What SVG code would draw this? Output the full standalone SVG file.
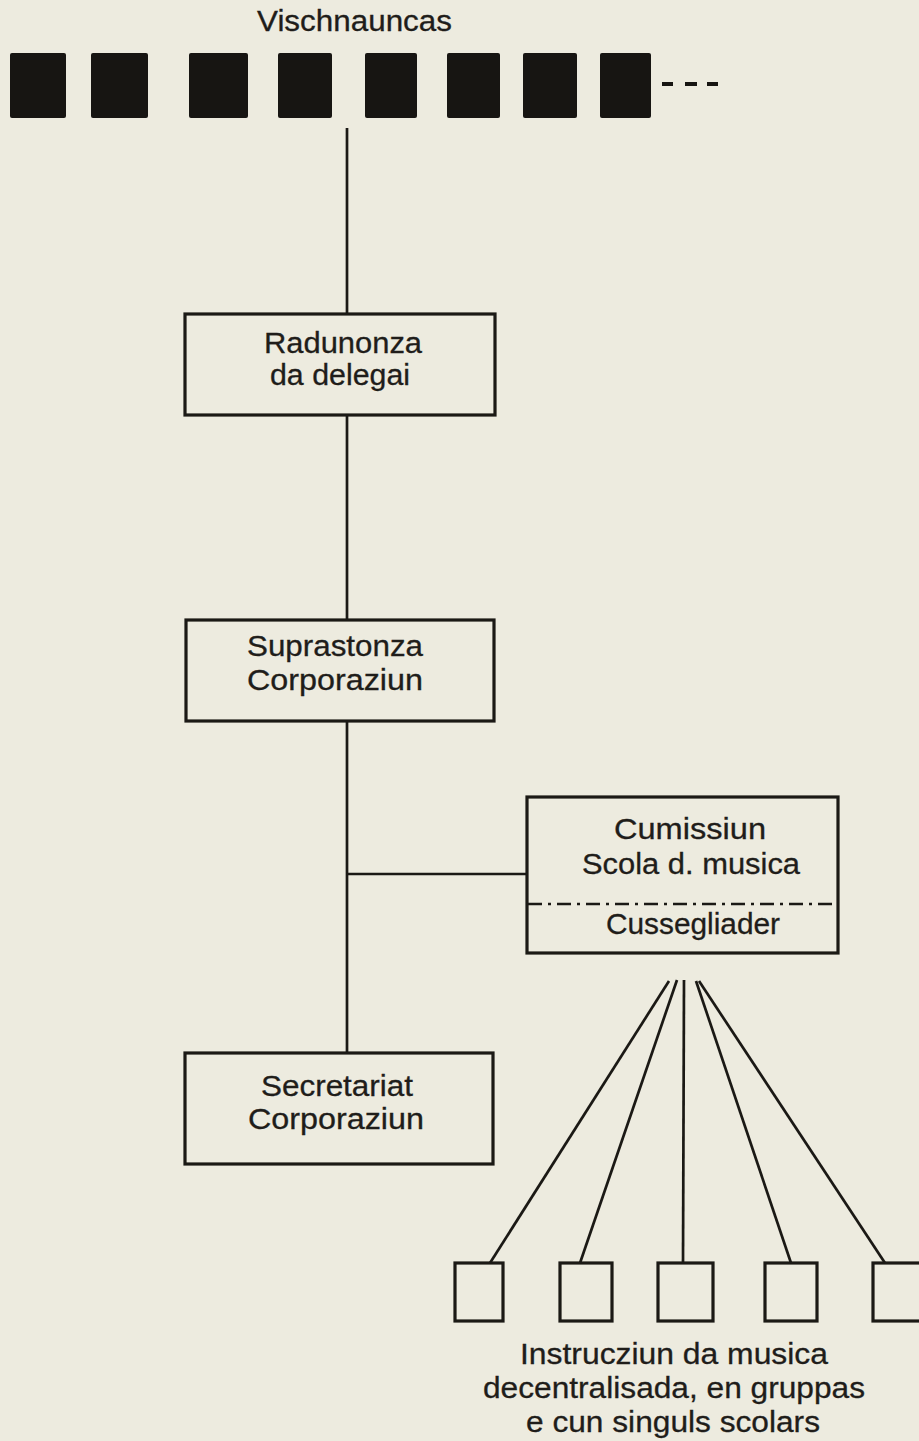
<svg xmlns="http://www.w3.org/2000/svg" width="919" height="1441" viewBox="0 0 919 1441">
<style>
.t{font-family:"Liberation Sans",Arial,sans-serif;font-size:29px;fill:#1f1d1a;stroke:#1f1d1a;stroke-width:0.3}
.box{fill:none;stroke:#1b1915;stroke-width:3.2}
.sq{fill:#171512}
.ln{fill:none;stroke:#1b1915;stroke-width:2.7}
.dd{fill:none;stroke:#1b1915;stroke-width:2.7;stroke-dasharray:14 6 3 6}
</style>
<rect x="0" y="0" width="919" height="1441" fill="#edebdf"/>
<g id="connectors">
<line class="ln" x1="347" y1="128" x2="347" y2="314"/>
<line class="ln" x1="347" y1="415" x2="347" y2="620"/>
<line class="ln" x1="347" y1="721" x2="347" y2="1053"/>
<line class="ln" x1="347" y1="874" x2="527" y2="874"/>
<line class="ln" x1="669" y1="981" x2="490" y2="1263"/>
<line class="ln" x1="677" y1="980" x2="580" y2="1263"/>
<line class="ln" x1="684" y1="980" x2="683" y2="1263"/>
<line class="ln" x1="696" y1="981" x2="791" y2="1263"/>
<line class="ln" x1="699" y1="981" x2="885" y2="1263"/>
</g>
<g id="vischnauncas">
<text class="t" x="257" y="31" font-size="24" textLength="195" lengthAdjust="spacingAndGlyphs">Vischnauncas</text>
<rect class="sq" x="10" y="53" width="56" height="65" rx="2"/>
<rect class="sq" x="91" y="53" width="57" height="65" rx="2"/>
<rect class="sq" x="189" y="53" width="59" height="65" rx="2"/>
<rect class="sq" x="278" y="53" width="54" height="65" rx="2"/>
<rect class="sq" x="365" y="53" width="52" height="65" rx="2"/>
<rect class="sq" x="447" y="53" width="53" height="65" rx="2"/>
<rect class="sq" x="523" y="53" width="54" height="65" rx="2"/>
<rect class="sq" x="600" y="53" width="51" height="65" rx="2"/>
<rect class="sq" x="662" y="82" width="11" height="4"/>
<rect class="sq" x="685" y="82" width="12" height="4"/>
<rect class="sq" x="707" y="82" width="11" height="4"/>
</g>
<g id="radunonza">
<rect class="box" x="185" y="314" width="310" height="101"/>
<text class="t" x="264" y="353" textLength="158" lengthAdjust="spacingAndGlyphs">Radunonza</text>
<text class="t" x="270" y="385" textLength="140" lengthAdjust="spacingAndGlyphs">da delegai</text>
</g>
<g id="suprastonza">
<rect class="box" x="186" y="620" width="308" height="101"/>
<text class="t" x="247" y="656" textLength="176" lengthAdjust="spacingAndGlyphs">Suprastonza</text>
<text class="t" x="247" y="690" textLength="176" lengthAdjust="spacingAndGlyphs">Corporaziun</text>
</g>
<g id="cumissiun">
<rect class="box" x="527" y="797" width="311" height="156"/>
<text class="t" x="614" y="839" textLength="152" lengthAdjust="spacingAndGlyphs">Cumissiun</text>
<text class="t" x="582" y="874" textLength="218" lengthAdjust="spacingAndGlyphs">Scola d. musica</text>
<line class="dd" x1="528" y1="904" x2="838" y2="904"/>
<text class="t" x="606" y="934" textLength="174" lengthAdjust="spacingAndGlyphs">Cussegliader</text>
</g>
<g id="secretariat">
<rect class="box" x="185" y="1053" width="308" height="111"/>
<text class="t" x="261" y="1096" textLength="152" lengthAdjust="spacingAndGlyphs">Secretariat</text>
<text class="t" x="248" y="1129" textLength="176" lengthAdjust="spacingAndGlyphs">Corporaziun</text>
</g>
<g id="instrucziun">
<rect class="box" x="455" y="1263" width="48" height="58"/>
<rect class="box" x="560" y="1263" width="52" height="58"/>
<rect class="box" x="658" y="1263" width="55" height="58"/>
<rect class="box" x="765" y="1263" width="52" height="58"/>
<rect class="box" x="873" y="1263" width="60" height="58"/>
<text class="t" x="520" y="1364" font-size="28" textLength="308" lengthAdjust="spacingAndGlyphs">Instrucziun da musica</text>
<text class="t" x="483" y="1398" font-size="28" textLength="382" lengthAdjust="spacingAndGlyphs">decentralisada, en gruppas</text>
<text class="t" x="526" y="1432" font-size="28" textLength="294" lengthAdjust="spacingAndGlyphs">e cun singuls scolars</text>
</g>
</svg>
